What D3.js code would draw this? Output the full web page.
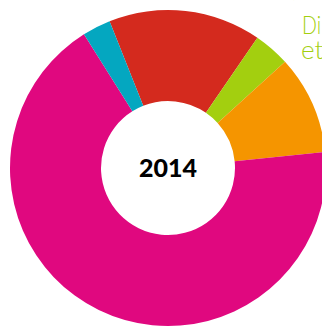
<!DOCTYPE html>
<html><head><meta charset="utf-8">
<script src="https://cdn.jsdelivr.net/npm/d3@7"></script>
<style>html,body{margin:0;padding:0;background:#fff;overflow:hidden}</style>
</head><body>
<svg id="c" width="322" height="327"></svg>
<script>
const categories = ["Rouge", "Vert", "Orange", "Magenta", "Bleu"];
const values = [15.6, 3.7, 10.1, 67.7, 2.9];
const colors = ["#d42a1e", "#a3cf0f", "#f59500", "#e0087f", "#04a7c0"];
const centerLabel = "2014";
const startAngleDeg = -21.7;

const svg = d3.select("#c");
const cx = 168, cy = 168, rOuter = 158, rInner = 67;
const a0 = startAngleDeg * Math.PI / 180;
const pie = d3.pie().sort(null).value(d => d).startAngle(a0).endAngle(a0 + 2 * Math.PI);
const arc = d3.arc().innerRadius(rInner).outerRadius(rOuter);
const color = d3.scaleOrdinal().domain(categories).range(colors);

const g = svg.append("g").attr("transform", `translate(${cx},${cy})`);
g.selectAll("path").data(pie(values)).join("path")
  .attr("d", arc)
  .attr("fill", (d, i) => color(categories[i]));

g.append("text").attr("text-anchor", "middle").attr("y", 8.5)
  .attr("font-family", "Lato, 'DejaVu Sans', sans-serif").attr("font-weight", 900)
  .attr("font-size", 25).attr("fill", "#000").text(centerLabel);

const legend = svg.append("g")
  .attr("font-family", "Lato, 'Open Sans', sans-serif").attr("font-weight", 300)
  .attr("font-size", 26);
legend.append("text").attr("x", 302).attr("y", 34).attr("fill", "#a3cf0f")
  .attr("textLength", 19).attr("lengthAdjust", "spacingAndGlyphs").text("Di");
legend.append("text").attr("x", 301).attr("y", 59).attr("fill", "#a3cf0f").text("et");
legend.append("text").attr("x", 292).attr("y", -3).attr("fill", "#d42a1e").text(",");
</script>
</body></html>
